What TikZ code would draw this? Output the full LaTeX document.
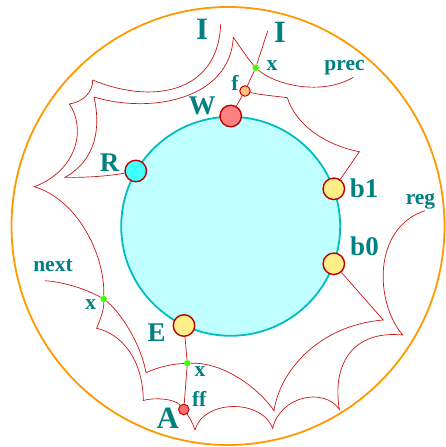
\documentclass[tikz,border=0pt]{standalone}
\usepackage{fontspec}
\setmainfont{Liberation Serif}
\usetikzlibrary{calc}
\definecolor{ringorange}{RGB}{255,153,0}
\definecolor{discfill}{RGB}{192,255,255}
\definecolor{discline}{RGB}{0,190,190}
\definecolor{arcred}{RGB}{205,20,20}
\definecolor{rimred}{RGB}{190,0,0}
\definecolor{labteal}{RGB}{0,128,128}
\definecolor{dotgreen}{RGB}{64,255,0}
\definecolor{wfill}{RGB}{255,128,128}
\definecolor{rfill}{RGB}{64,255,255}
\definecolor{yfill}{RGB}{255,238,136}
\definecolor{ffill}{RGB}{255,192,128}
\definecolor{fffill}{RGB}{255,112,112}

\begin{document}
\begin{tikzpicture}[x=1pt,y=-1pt,
  placenode/.style={circle,draw=rimred,line width=1.4pt,minimum size=21.5pt,inner sep=0pt},
  tinynode/.style={circle,draw=rimred,line width=1pt,minimum size=10.5pt,inner sep=0pt},
  xdot/.style={circle,fill=dotgreen,minimum size=6.5pt,inner sep=0pt},
  wire/.style={arcred,line width=0.7pt},
  biglab/.style={text=labteal,inner sep=0pt,font=\bfseries\fontsize{31}{31}\selectfont},
  lab/.style={text=labteal,inner sep=0pt,font=\bfseries\fontsize{27}{27}\selectfont},
  smalllab/.style={text=labteal,inner sep=0pt,font=\bfseries\fontsize{21.5}{21.5}\selectfont}
]
  \useasboundingbox (0,0) rectangle (445,447);
  % Ring and disc
  \draw[ringorange,line width=1.8pt] (228,226) ellipse[x radius=216.5pt,y radius=219pt];
  \filldraw[fill=discfill,draw=discline,line width=1.8pt] (230.7,226.3) circle[radius=109.5pt];
  % Places on the disc
  \node[placenode,fill=wfill] (W) at (230.7,116) {};
  \node[placenode,fill=rfill] (R) at (135.8,171) {};
  \node[placenode,fill=yfill] (b1) at (333.8,188.8) {};
  \node[placenode,fill=yfill] (b0) at (333.8,263.8) {};
  \node[placenode,fill=yfill] (E) at (184,325.5) {};
  \node[tinynode,fill=ffill] (f) at (245,91) {};
  \node[tinynode,fill=fffill] (ff) at (183.8,409.5) {};
  % Crossings
  \node[xdot] (xt) at (255.7,67.7) {};
  \node[xdot] (xl) at (103.7,299) {};
  \node[xdot] (xb) at (187.3,363.3) {};
  % Cusps and loose ends
  \coordinate (itl) at (220.7,24);
  \coordinate (itr) at (267.7,31);
  \coordinate (p0) at (92.7,80);
  \coordinate (q) at (69.3,104);
  \coordinate (l) at (34.3,186.7);
  \coordinate (lb) at (96.7,328.3);
  \coordinate (ab) at (143.3,400.5);
  \coordinate (ac) at (195,430);
  \coordinate (bc) at (272.7,428.3);
  \coordinate (cc) at (339.3,409.3);
  \coordinate (dc) at (402.7,335);
  \coordinate (regend) at (425,210.7);
  \coordinate (precend) at (353.3,77.3);
  \coordinate (t) at (233.3,37.3);
  \coordinate (p1) at (94,97);
  \coordinate (rc) at (65,177.3);
  \coordinate (nextend) at (45,280.7);
  \coordinate (nc) at (146,372.7);
  \coordinate (bd) at (274,410.7);
  \coordinate (b0c) at (383.3,320);
  \coordinate (fc) at (287.3,97.7);
  \coordinate (b1c) at (359.3,151.7);
  % Outer chain
  \draw[wire] (itl) .. controls (218,95) and (150,104) .. (p0)
    .. controls (93,92) and (83,102) .. (q)
    .. controls (86,128) and (78,170) .. (l)
    .. controls (78,200) and (105,255) .. (xl)
    .. controls (104,310) and (100,320) .. (lb)
    .. controls (122,334) and (143,360) .. (ab)
    .. controls (155,397) and (175,399) .. (ff)
    .. controls (189,417) and (193,423) .. (ac)
    .. controls (203,400) and (261,398) .. (bc)
    .. controls (280,396) and (324,387) .. (cc)
    .. controls (332,365) and (352,330) .. (dc)
    .. controls (375,303) and (372,228) .. (regend);
  % Inner chain
  \draw[wire] (precend) .. controls (322,96) and (275,85) .. (xt)
    .. controls (249,60) and (240,47) .. (t)
    .. controls (230,100) and (150,114) .. (p1)
    .. controls (101,128) and (96,160) .. (rc)
    .. controls (90,178) and (115,175) .. (R);
  % next chain
  \draw[wire] (nextend) .. controls (65,282) and (88,290) .. (xl)
    .. controls (118,310) and (140,340) .. (nc)
    .. controls (158,367) and (172,364) .. (xb)
    .. controls (225,362) and (260,390) .. (bd)
    .. controls (280,370) and (320,325) .. (b0c) -- (b0);
  % Spokes
  \draw[wire] (W) -- (f) -- (xt) -- (itr);
  \draw[wire] (f) .. controls (260,95) and (275,96) .. (fc)
    .. controls (296,125) and (325,145) .. (b1c) -- (b1);
  \draw[wire] (E) -- (xb) -- (ff);
  % Labels
  \node[biglab] (ilab) at (202.2,29.7) {I};
  \node[biglab] (jlab) at (280,32.5) {I};
  \node[lab] (wlab) at (202,106.2) {W};
  \node[lab] (rlab) at (109.7,162.8) {R};
  \node[lab] (b1lab) at (364.2,188) {b1};
  \node[lab] (b0lab) at (364.5,246.7) {b0};
  \node[lab] (elab) at (156.7,332.8) {E};
  \node[biglab] (alab) at (167.8,418.3) {A};
  \node[smalllab] (flab) at (235,83.3) {f};
  \node[smalllab] (xtlab) at (272,66) {x};
  \node[smalllab] (preclab) at (344.5,67.7) {prec};
  \node[smalllab] (reglab) at (420.5,201.3) {reg};
  \node[smalllab] (nextlab) at (53,265.8) {next};
  \node[smalllab] (xllab) at (90.8,304.5) {x};
  \node[smalllab] (xblab) at (200,372) {x};
  \node[smalllab] (fflab) at (199.2,398.5) {ff};
\end{tikzpicture}
\end{document}
